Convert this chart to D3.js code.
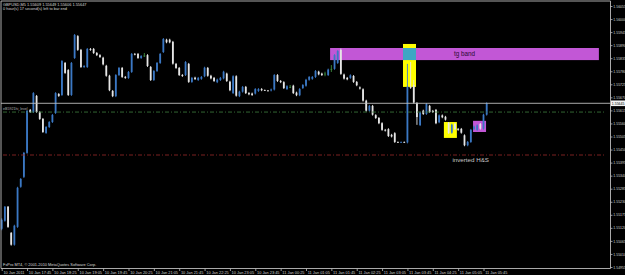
<!DOCTYPE html>
<html><head><meta charset="utf-8">
<script src="https://cdn.jsdelivr.net/npm/d3@7"></script>
<style>html,body{margin:0;padding:0;background:#000;overflow:hidden}svg{display:block}text{font-family:"Liberation Sans",Arial,sans-serif}</style>
</head><body><svg id="c" width="625" height="275"></svg>
<script>
// ---- data (GBPUSD M5) ----
const opens = [1.55116,1.55150,1.55209,1.55099,1.55049,1.55124,1.55293,1.55335,1.55436,1.55617,1.55608,1.55676,1.55608,1.55579,1.55520,1.55545,1.55566,1.55604,1.55684,1.55680,
1.55815,1.55785,1.55680,1.55836,1.55928,1.55870,1.55798,1.55798,1.55874,1.55874,1.55857,1.55848,1.55837,1.55803,1.55761,1.55697,1.55675,1.55764,1.55794,1.55756,
1.55752,1.55777,1.55853,1.55853,1.55836,1.55846,1.55848,1.55798,1.55743,1.55781,1.55815,1.55861,1.55913,1.55913,1.55904,1.55811,1.55794,1.55764,1.55764,1.55811,
1.55735,1.55753,1.55743,1.55748,1.55759,1.55794,1.55761,1.55752,1.55734,1.55743,1.55750,1.55770,1.55736,1.55688,1.55759,1.55675,1.55694,1.55714,1.55688,1.55686,
1.55686,1.55697,1.55705,1.55701,1.55699,1.55699,1.55703,1.55764,1.55739,1.55734,1.55705,1.55714,1.55719,1.55690,1.55679,1.55709,1.55719,1.55744,1.55748,1.55756,
1.55778,1.55770,1.55770,1.55764,1.55790,1.55790,1.55815,1.55870,1.55766,1.55752,1.55752,1.55760,1.55735,1.55712,1.55704,1.55656,1.55614,1.55634,1.55595,1.55583,
1.55561,1.55533,1.55536,1.55512,1.55519,1.55482,1.55480,1.55482,1.55480,1.55715,1.55722,1.55646,1.55553,1.55614,1.55600,1.55634,1.55613,1.55617,1.55565,1.55594,
1.55588,1.55562,1.55521,1.55558,1.55537,1.55537,1.55510,1.55468,1.55482,1.55536,1.55533,1.55558,1.55538,1.55597];
const closes = [1.55154,1.55209,1.55124,1.55049,1.55129,1.55289,1.55326,1.55436,1.55613,1.55608,1.55688,1.55608,1.55579,1.55524,1.55545,1.55566,1.55596,1.55688,1.55676,1.55823,
1.55773,1.55680,1.55815,1.55933,1.55870,1.55798,1.55802,1.55874,1.55870,1.55857,1.55848,1.55840,1.55809,1.55761,1.55700,1.55675,1.55764,1.55794,1.55756,1.55752,
1.55777,1.55853,1.55851,1.55836,1.55844,1.55846,1.55802,1.55743,1.55781,1.55815,1.55853,1.55916,1.55902,1.55902,1.55812,1.55794,1.55764,1.55760,1.55819,1.55735,
1.55752,1.55747,1.55752,1.55756,1.55795,1.55761,1.55750,1.55739,1.55745,1.55752,1.55778,1.55739,1.55700,1.55759,1.55677,1.55694,1.55714,1.55688,1.55683,1.55680,
1.55705,1.55705,1.55700,1.55699,1.55697,1.55703,1.55764,1.55739,1.55734,1.55709,1.55717,1.55714,1.55688,1.55679,1.55705,1.55722,1.55744,1.55756,1.55756,1.55781,
1.55767,1.55764,1.55770,1.55787,1.55790,1.55848,1.55865,1.55769,1.55749,1.55746,1.55763,1.55735,1.55721,1.55707,1.55656,1.55614,1.55634,1.55597,1.55583,1.55561,
1.55533,1.55530,1.55507,1.55505,1.55482,1.55480,1.55482,1.55480,1.55715,1.55710,1.55648,1.55587,1.55606,1.55600,1.55642,1.55608,1.55608,1.55561,1.55594,1.55586,
1.55576,1.55520,1.55555,1.55536,1.55533,1.55521,1.55468,1.55482,1.55533,1.55547,1.55552,1.55538,1.55597,1.55645];
const highs = [1.55160,1.55212,1.55212,1.55102,1.55133,1.55293,1.55330,1.55440,1.55617,1.55621,1.55692,1.55680,1.55612,1.55583,1.55549,1.55570,1.55600,1.55692,1.55688,1.55827,
1.55819,1.55789,1.55819,1.55937,1.55932,1.55874,1.55806,1.55878,1.55878,1.55878,1.55861,1.55852,1.55841,1.55807,1.55765,1.55701,1.55768,1.55798,1.55798,1.55760,
1.55781,1.55857,1.55857,1.55857,1.55848,1.55857,1.55852,1.55802,1.55785,1.55819,1.55857,1.55920,1.55917,1.55917,1.55908,1.55815,1.55798,1.55768,1.55823,1.55815,
1.55756,1.55757,1.55756,1.55760,1.55799,1.55798,1.55765,1.55756,1.55749,1.55756,1.55782,1.55774,1.55740,1.55763,1.55763,1.55698,1.55718,1.55718,1.55692,1.55690,
1.55709,1.55709,1.55709,1.55703,1.55701,1.55707,1.55768,1.55768,1.55743,1.55738,1.55721,1.55722,1.55723,1.55694,1.55709,1.55726,1.55748,1.55760,1.55760,1.55785,
1.55782,1.55774,1.55778,1.55791,1.55806,1.55852,1.55869,1.55876,1.55770,1.55756,1.55767,1.55764,1.55739,1.55716,1.55708,1.55660,1.55638,1.55638,1.55599,1.55587,
1.55565,1.55537,1.55540,1.55516,1.55523,1.55484,1.55484,1.55484,1.55811,1.55819,1.55743,1.55650,1.55610,1.55618,1.55646,1.55638,1.55617,1.55621,1.55598,1.55598,
1.55592,1.55566,1.55559,1.55562,1.55541,1.55541,1.55514,1.55486,1.55537,1.55551,1.55556,1.55562,1.55601,1.55649];
const lows = [1.55110,1.55146,1.55120,1.55045,1.55045,1.55120,1.55289,1.55330,1.55432,1.55604,1.55604,1.55604,1.55575,1.55520,1.55516,1.55541,1.55562,1.55600,1.55672,1.55676,
1.55769,1.55676,1.55676,1.55832,1.55866,1.55794,1.55794,1.55794,1.55866,1.55853,1.55844,1.55836,1.55805,1.55757,1.55696,1.55671,1.55671,1.55760,1.55752,1.55748,
1.55748,1.55773,1.55847,1.55832,1.55832,1.55840,1.55798,1.55739,1.55739,1.55777,1.55811,1.55857,1.55898,1.55898,1.55808,1.55790,1.55760,1.55756,1.55760,1.55731,
1.55731,1.55743,1.55739,1.55744,1.55755,1.55757,1.55746,1.55735,1.55730,1.55739,1.55746,1.55735,1.55696,1.55684,1.55673,1.55671,1.55690,1.55684,1.55679,1.55676,
1.55682,1.55693,1.55696,1.55697,1.55695,1.55695,1.55699,1.55735,1.55730,1.55705,1.55701,1.55709,1.55684,1.55675,1.55675,1.55705,1.55715,1.55740,1.55744,1.55752,
1.55763,1.55760,1.55759,1.55760,1.55777,1.55786,1.55811,1.55765,1.55745,1.55742,1.55748,1.55731,1.55717,1.55703,1.55652,1.55610,1.55610,1.55593,1.55579,1.55557,
1.55529,1.55526,1.55503,1.55501,1.55478,1.55478,1.55478,1.55478,1.55476,1.55706,1.55644,1.55554,1.55549,1.55596,1.55596,1.55604,1.55604,1.55557,1.55561,1.55582,
1.55572,1.55516,1.55517,1.55532,1.55529,1.55517,1.55464,1.55464,1.55478,1.55532,1.55529,1.55534,1.55534,1.55593];

const priceTicks = [1.54955,1.55010,1.55065,1.55120,1.55175,1.55230,1.55285,1.55340,1.55395,1.55450,1.55505,1.55560,1.55615,1.55670,1.55725,1.55780,1.55835,1.55890,1.55945,1.56000,1.56055];
const timeLabels = ["10 Jan 2011","10 Jan 17:45","10 Jan 18:25","10 Jan 19:05","10 Jan 19:45","10 Jan 20:25","10 Jan 21:05","10 Jan 21:45","10 Jan 22:25","10 Jan 23:05",
"10 Jan 23:45","11 Jan 00:25","11 Jan 01:05","11 Jan 01:45","11 Jan 02:25","11 Jan 03:05","11 Jan 03:45","11 Jan 04:25","11 Jan 05:05","11 Jan 05:45"];
const timeLabelBars = [0,8,16,24,32,40,48,56,64,72,80,88,96,104,112,120,128,136,144,152];

const bidPrice = 1.55645;
const hLineNames = ["eB5921hi_level",""];
const hLinePrices = [1.55608, 1.55427];
const hLineColors = ["#3f7f3f", "#9a2a2a"];

// rectangle objects: [startBar, endBar], [topPrice, bottomPrice]
const rectNames = ["tg band","yellow1","yellow2","violet2"];
const rectBars = [[103.6,188.4],[126.6,130.7],[139.5,143.6],[148.7,152.8]];
const rectPrices = [[1.55878,1.55827],[1.55895,1.55714],[1.55566,1.55499],[1.55571,1.55524]];
const rectColors = ["#c257d6","#ffff00","#ffff00","#c257d6"];
const overlapColor = "#3ea6c4";

const header1 = "GBPUSD,M5  1.55609 1.55649 1.55606 1.55647";
const header2 = "0 hour(s) 17 second(s) left to bar end";
const copyright = "FxPro MT4, © 2001-2010 MetaQuotes Software Corp.";
const noteText = "inverted H&S";
const noteBar = 142.2, notePrice = 1.55398;

// ---- drawing ----
const svg = d3.select("#c");
svg.append("rect").attr("width",625).attr("height",275).attr("fill","#000");
const x = d3.scaleLinear().domain([0,192]).range([1.7, 610.3]);
const y = d3.scaleLinear().domain([1.54955,1.56055]).range([267,6]);
const plotR = 610.5, plotB = 268.5;

// rectangles (background)
rectBars.forEach((b,k)=>{
  svg.append("rect").attr("x",x(b[0])).attr("width",x(b[1])-x(b[0]))
    .attr("y",y(rectPrices[k][0])).attr("height",y(rectPrices[k][1])-y(rectPrices[k][0]))
    .attr("fill",rectColors[k]);
});
{
  const a=rectBars[0], b=rectBars[1], pa=rectPrices[0], pb=rectPrices[1];
  const x0=Math.max(x(a[0]),x(b[0])), x1=Math.min(x(a[1]),x(b[1]));
  const y0=Math.max(y(pa[0]),y(pb[0])), y1=Math.min(y(pa[1]),y(pb[1]));
  svg.append("rect").attr("x",x0).attr("width",x1-x0).attr("y",y0).attr("height",y1-y0).attr("fill",overlapColor);
}
svg.append("text").attr("x",(x(rectBars[0][0])+x(rectBars[0][1]))/2).attr("y",(y(rectPrices[0][0])+y(rectPrices[0][1]))/2+2)
  .attr("text-anchor","middle").attr("font-size",6.3).attr("fill","#2a0a30").text(rectNames[0]);

// candles
const col = i => closes[i]>opens[i] ? "#3b78c4" : (closes[i]<opens[i] ? "#e6e6e6" : "#3f8f3f");
const g = svg.append("g");
opens.forEach((o,i)=>{
  const cx = x(i);
  g.append("line").attr("x1",cx).attr("x2",cx).attr("y1",y(highs[i])).attr("y2",y(lows[i]))
    .attr("stroke",col(i)).attr("stroke-width",0.9);
  const t = y(Math.max(o,closes[i])), bt = y(Math.min(o,closes[i]));
  g.append("rect").attr("x",cx-0.9).attr("width",1.8).attr("y",t).attr("height",Math.max(0.8,bt-t)).attr("fill",col(i));
});

// horizontal lines
hLinePrices.forEach((p,k)=>{
  svg.append("line").attr("x1",3).attr("x2",604).attr("y1",y(p)).attr("y2",y(p))
    .attr("stroke",hLineColors[k]).attr("stroke-width",0.8).attr("stroke-dasharray","4,2,1,2");
});
svg.append("text").attr("x",3).attr("y",y(hLinePrices[0])-2).attr("font-size",3.6).attr("fill","#b0b0b0").text(hLineNames[0]);
svg.append("line").attr("x1",1).attr("x2",plotR).attr("y1",y(bidPrice)).attr("y2",y(bidPrice)).attr("stroke","#bdbdbd").attr("stroke-width",0.9);

// borders
svg.append("path").attr("d",`M1,${plotB}V1H${plotR}V${plotB}H1`).attr("fill","none").attr("stroke","#bcbcbc").attr("stroke-width",0.9);

// right axis
const ay = svg.append("g").attr("transform",`translate(${plotR},0)`)
  .call(d3.axisRight(y).tickValues(priceTicks).tickSize(2).tickPadding(0.8).tickFormat(d3.format(".5f")));
ay.select(".domain").remove();
ay.selectAll("line").attr("stroke","#bcbcbc").attr("stroke-width",0.8);
ay.selectAll("text").attr("font-size",3.5).attr("fill","#d0d0d0").attr("font-family","Liberation Sans, Arial, sans-serif");

// bid price label
svg.append("rect").attr("x",plotR+0.5).attr("y",y(bidPrice)-2.8).attr("width",14).attr("height",5.6).attr("fill","#f4f4f4");
svg.append("text").attr("x",plotR+1.3).attr("y",y(bidPrice)+1.3).attr("font-size",3.5).attr("fill","#000").text(d3.format(".5f")(bidPrice));

// bottom axis
const ax = svg.append("g").attr("transform",`translate(0,${plotB})`)
  .call(d3.axisBottom(x).tickValues(timeLabelBars).tickSize(2.5).tickFormat((d,k)=>timeLabels[k]));
ax.select(".domain").remove();
ax.selectAll("line").attr("stroke","#bcbcbc").attr("stroke-width",0.8);
ax.selectAll("text").attr("font-size",3.9).attr("fill","#d0d0d0").attr("text-anchor","start")
  .attr("dx",1.2).attr("dy",0).attr("y",5.2).attr("font-family","Liberation Sans, Arial, sans-serif");

// texts
svg.append("text").attr("x",3).attr("y",6).attr("font-size",3.9).attr("fill","#d8d8d8").text(header1);
svg.append("text").attr("x",3).attr("y",10.3).attr("font-size",3.9).attr("fill","#d8d8d8").text(header2);
svg.append("text").attr("x",3).attr("y",266).attr("font-size",3.9).attr("fill","#d8d8d8").text(copyright);
svg.append("text").attr("x",x(noteBar)).attr("y",y(notePrice)).attr("font-size",6.2).attr("fill","#c8c8c8").text(noteText);
</script></body></html>
